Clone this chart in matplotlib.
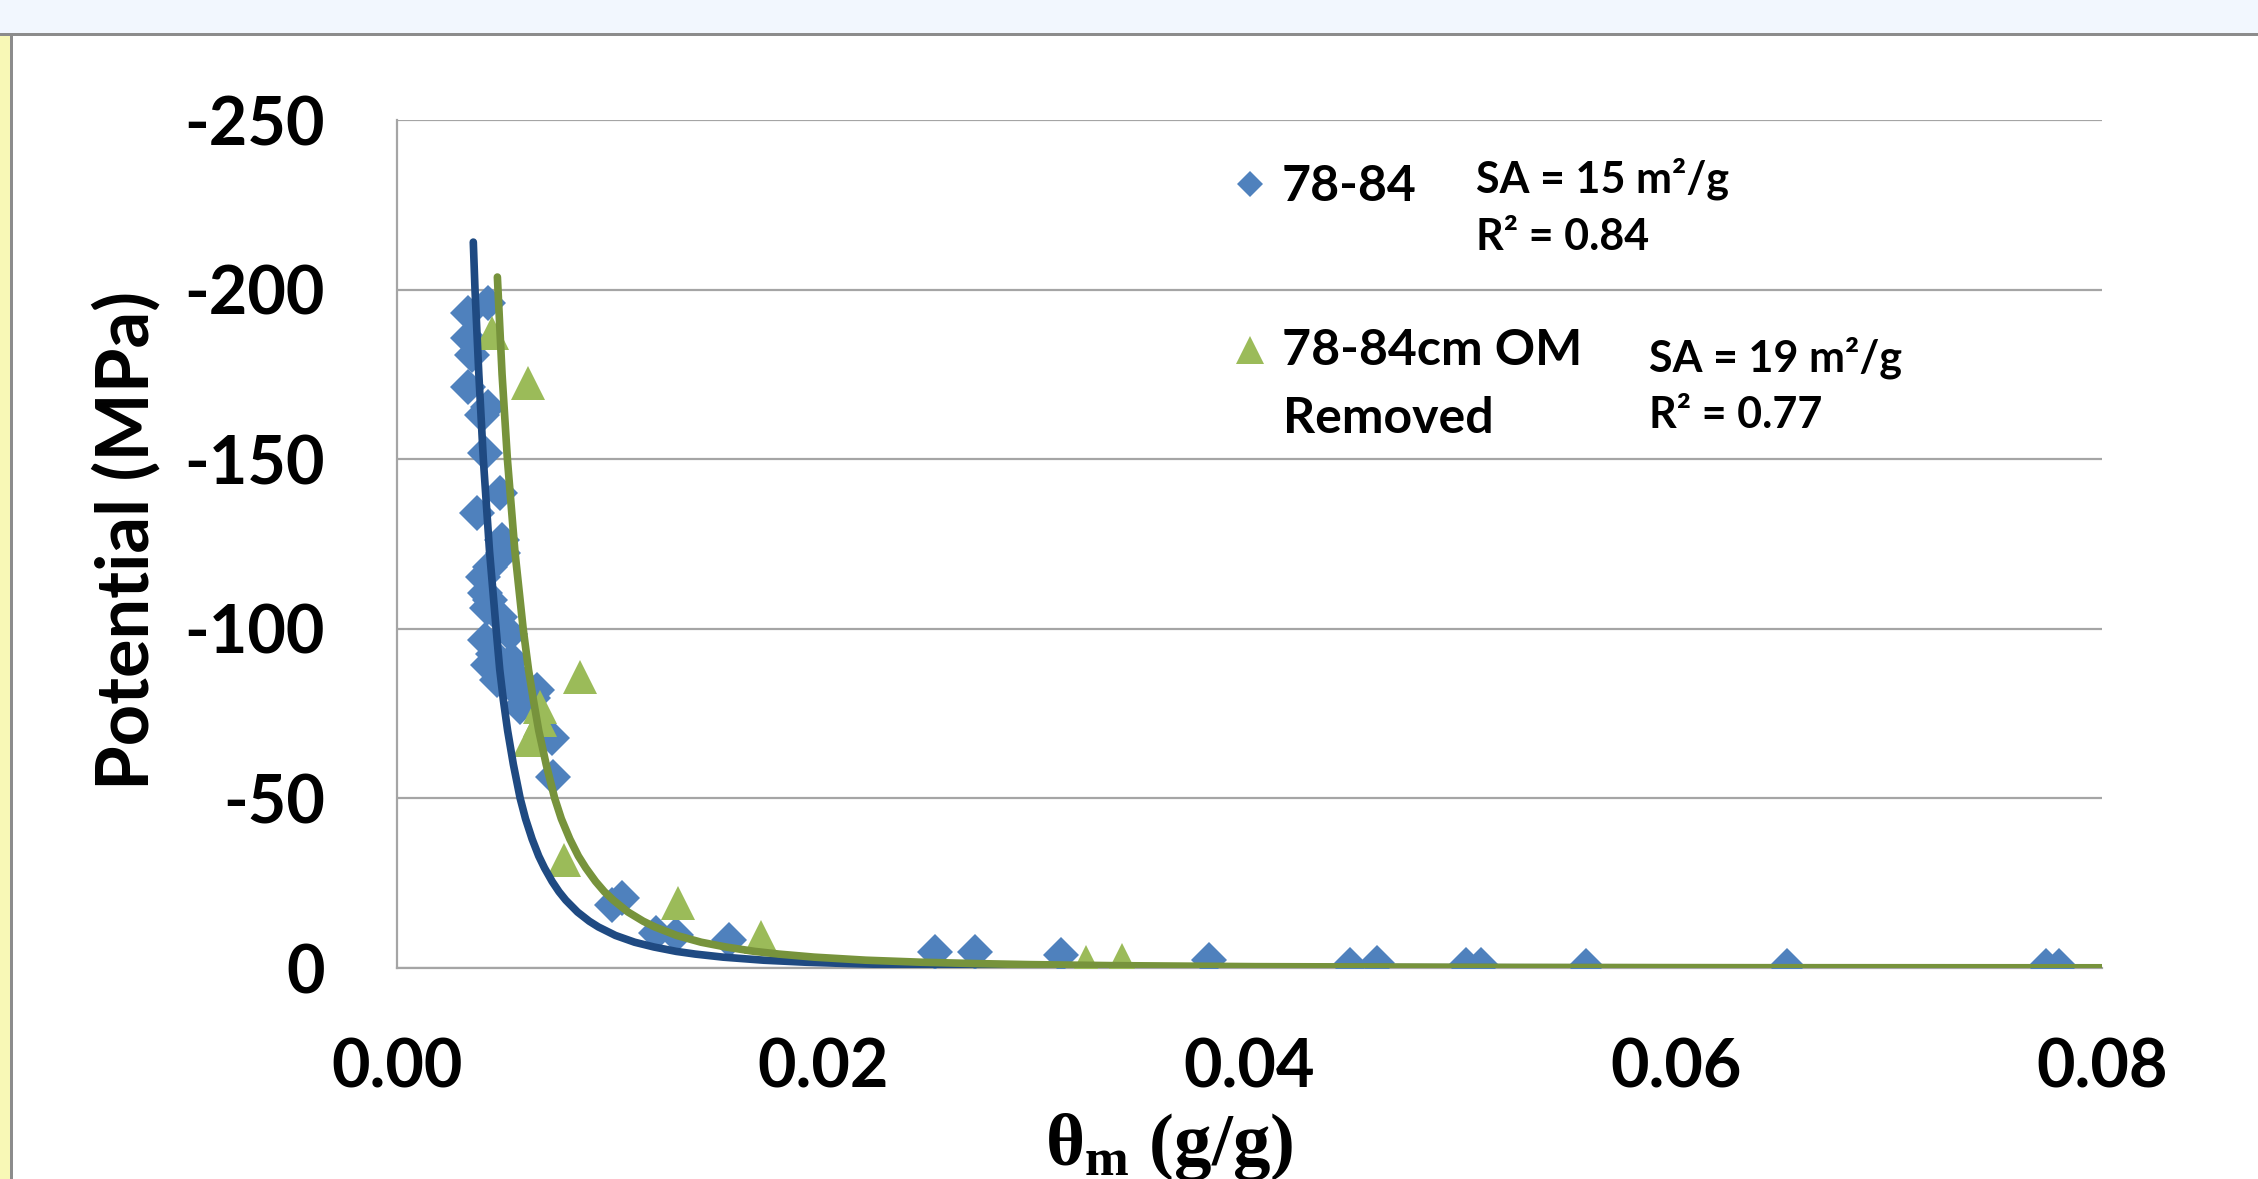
import matplotlib
matplotlib.use("Agg")
import matplotlib.pyplot as plt
from matplotlib.patches import Rectangle

# 78-84 cm sample (blue diamonds), water content g/g vs potential MPa
soil_theta = [0.00335, 0.00429, 0.00335, 0.00350, 0.00335, 0.00429, 0.00397,
              0.00413, 0.00483, 0.00374, 0.00491, 0.00499, 0.00436, 0.00405,
              0.00413, 0.00436, 0.00421, 0.00483, 0.00413, 0.00530, 0.00452,
              0.00538, 0.00429, 0.00499, 0.00468, 0.00577, 0.00546, 0.00655,
              0.00640, 0.00577, 0.00726, 0.00734, 0.01010, 0.01057, 0.01213,
              0.01309, 0.01560, 0.02525, 0.02710, 0.03116, 0.03810, 0.04470,
              0.04600, 0.05014, 0.05084, 0.05580, 0.06520, 0.07735, 0.07800]
soil_psi = [-193.0, -196.0, -185.7, -180.7, -171.4, -165.5, -163.0,
            -151.7, -139.9, -134.0, -126.2, -122.2, -118.3, -115.3,
            -110.5, -108.5, -106.0, -103.5, -96.7, -98.6, -92.7,
            -90.8, -89.3, -86.8, -84.9, -84.9, -82.9, -81.9,
            -79.5, -77.0, -67.7, -56.3, -18.5, -20.5, -10.2,
            -9.7, -8.2, -4.7, -4.7, -3.7, -2.3, -1.0,
            -1.5, -1.0, -1.0, -0.5, -0.5, -0.5, -0.5]

# 78-84 cm, organic matter removed (green triangles)
om_theta = [0.00444, 0.00616, 0.00859, 0.00671, 0.00671, 0.00624, 0.00782,
            0.01320, 0.01710, 0.03235, 0.03400]
om_psi = [-187.1, -172.4, -85.8, -77.0, -73.0, -67.2, -31.8,
          -19.1, -9.1, -1.8, -2.3]

# fitted curves
soil_fit_theta = [0.00358, 0.00366, 0.00384, 0.00405, 0.00434, 0.00465, 0.00482,
                  0.00499, 0.00519, 0.00546, 0.00578, 0.00603, 0.00634, 0.00665,
                  0.00692, 0.00728, 0.00760, 0.00792, 0.00847, 0.00902, 0.00945,
                  0.01025, 0.01115, 0.01205, 0.01310, 0.01400, 0.01530, 0.01720,
                  0.01920, 0.02120, 0.02320, 0.02620, 0.03150, 0.04100, 0.05000,
                  0.06000, 0.08000]
soil_fit_psi = [-214.0, -200.0, -175.0, -150.0, -123.0, -100.0, -88.0,
                -79.0, -70.0, -60.0, -50.0, -44.0, -38.0, -33.0,
                -29.5, -25.5, -22.5, -20.0, -16.5, -13.8, -12.1,
                -9.6, -7.6, -6.2, -4.9, -4.1, -3.2, -2.3,
                -1.7, -1.3, -1.0, -0.7, -0.4, -0.17, -0.09,
                -0.05, -0.02]
om_fit_theta = [0.00471, 0.00493, 0.00518, 0.00553, 0.00592, 0.00617, 0.00640,
                0.00665, 0.00700, 0.00740, 0.00771, 0.00811, 0.00851, 0.00886,
                0.00932, 0.00973, 0.01015, 0.01084, 0.01155, 0.01210, 0.01312,
                0.01427, 0.01542, 0.01677, 0.01792, 0.01958, 0.02200, 0.02460,
                0.02720, 0.02970, 0.03350, 0.04030, 0.05250, 0.06400, 0.08000]
om_fit_psi = [-203.7, -175.0, -150.0, -123.0, -100.0, -88.0, -79.0,
              -70.0, -60.0, -50.0, -44.0, -38.0, -33.0, -29.5,
              -25.5, -22.5, -20.0, -16.5, -13.8, -12.1, -9.6,
              -7.6, -6.2, -4.9, -4.1, -3.2, -2.3, -1.7,
              -1.3, -1.0, -0.7, -0.4, -0.17, -0.09, -0.06]

x_ticks = [0.00, 0.02, 0.04, 0.06, 0.08]
y_ticks = [0, -50, -100, -150, -200, -250]

blue = "#4F81BD"
green = "#9BBB59"
blue_line = "#1F4A82"
green_line = "#77933C"
grid_gray = "#A5A5A5"

plt.rcParams["axes.unicode_minus"] = False
plt.rcParams["mathtext.fontset"] = "custom"
plt.rcParams["mathtext.rm"] = "Liberation Serif:bold"
plt.rcParams["mathtext.it"] = "Liberation Serif:bold"
plt.rcParams["mathtext.bf"] = "Liberation Serif:bold"

W, H = 2258, 1179
fig = plt.figure(figsize=(W / 100, H / 100), dpi=100)
fig.patch.set_facecolor("white")

# window frame pieces around the chart
fig.add_artist(Rectangle((0, 1 - 33 / H), 1, 33 / H, transform=fig.transFigure,
                         facecolor="#F2F7FE", edgecolor="none"))
fig.add_artist(Rectangle((0, 0), 10 / W, 1 - 33 / H, transform=fig.transFigure,
                         facecolor="#F8F8B6", edgecolor="none"))
fig.add_artist(Rectangle((0, 1 - 36 / H), 1, 3 / H, transform=fig.transFigure,
                         facecolor="#8C8C8C", edgecolor="none"))
fig.add_artist(Rectangle((10 / W, 0), 3 / W, 1 - 33 / H, transform=fig.transFigure,
                         facecolor="#8C8C8C", edgecolor="none"))

ax = fig.add_axes([397 / W, 1 - 968 / H, (2102 - 397) / W, (968 - 120) / H])

ax.plot(soil_theta, soil_psi, linestyle="none", marker="D", markersize=18,
        color=blue, markeredgewidth=0, zorder=3)
ax.plot(om_theta, om_psi, linestyle="none", marker="^", markersize=25,
        color=green, markeredgewidth=0, zorder=3)
ax.plot(soil_fit_theta, soil_fit_psi, color=blue_line, linewidth=5.5,
        solid_capstyle="round", solid_joinstyle="round", zorder=4)
ax.plot(om_fit_theta, om_fit_psi, color=green_line, linewidth=5.5,
        solid_capstyle="round", solid_joinstyle="round", zorder=5)

ax.set_xlim(0, 0.08)
ax.set_ylim(0, -250)
ax.set_xticks(x_ticks)
ax.set_xticklabels([f"{v:.2f}" for v in x_ticks])
ax.set_yticks(y_ticks)
ax.set_yticklabels([str(v) for v in y_ticks])
ax.tick_params(length=0)
ax.tick_params(axis="y", pad=52)
ax.tick_params(axis="x", pad=50)
for lab in ax.get_xticklabels() + ax.get_yticklabels():
    lab.set_fontfamily("Lato")
    lab.set_fontweight("bold")
    lab.set_fontsize(48)

ax.grid(axis="y", color=grid_gray, linewidth=1.6)
ax.set_axisbelow(True)
for side in ["top", "right"]:
    ax.spines[side].set_visible(False)
for side in ["left", "bottom"]:
    ax.spines[side].set_color(grid_gray)
    ax.spines[side].set_linewidth(1.6)

fig.text(127 / W, 1 - 540 / H, "Potential (MPa)", rotation=90, ha="center",
         va="center", fontfamily="Lato", fontweight="bold", fontsize=52)
fig.text(1169 / W, 1 - 1165 / H, r"$\mathrm{\theta_m}$ (g/g)", ha="center",
         va="baseline", fontfamily="Liberation Serif", fontweight="bold",
         fontsize=54)

# legend, drawn by hand to place the text as in the original
fig.lines.append(plt.Line2D([1250 / W], [1 - 184 / H], transform=fig.transFigure,
                            marker="D", markersize=13, color=blue,
                            markeredgewidth=0, linestyle="none"))
fig.lines.append(plt.Line2D([1250 / W], [1 - 350 / H], transform=fig.transFigure,
                            marker="^", markersize=20, color=green,
                            markeredgewidth=0, linestyle="none"))
legend_font = dict(fontfamily="Lato", fontweight="bold", fontsize=36, va="baseline")
note_font = dict(fontfamily="Lato", fontweight="bold", fontsize=31, va="baseline")
fig.text(1282 / W, 1 - 201 / H, "78-84", **legend_font)
fig.text(1282 / W, 1 - 365 / H, "78-84cm OM", **legend_font)
fig.text(1283 / W, 1 - 433 / H, "Removed", **legend_font)
fig.text(1476 / W, 1 - 193 / H, "SA = 15 m²/g", **note_font)
fig.text(1476 / W, 1 - 250 / H, "R² = 0.84", **note_font)
fig.text(1649 / W, 1 - 372 / H, "SA = 19 m²/g", **note_font)
fig.text(1649 / W, 1 - 428 / H, "R² = 0.77", **note_font)

fig.savefig("out.png", dpi=100)
